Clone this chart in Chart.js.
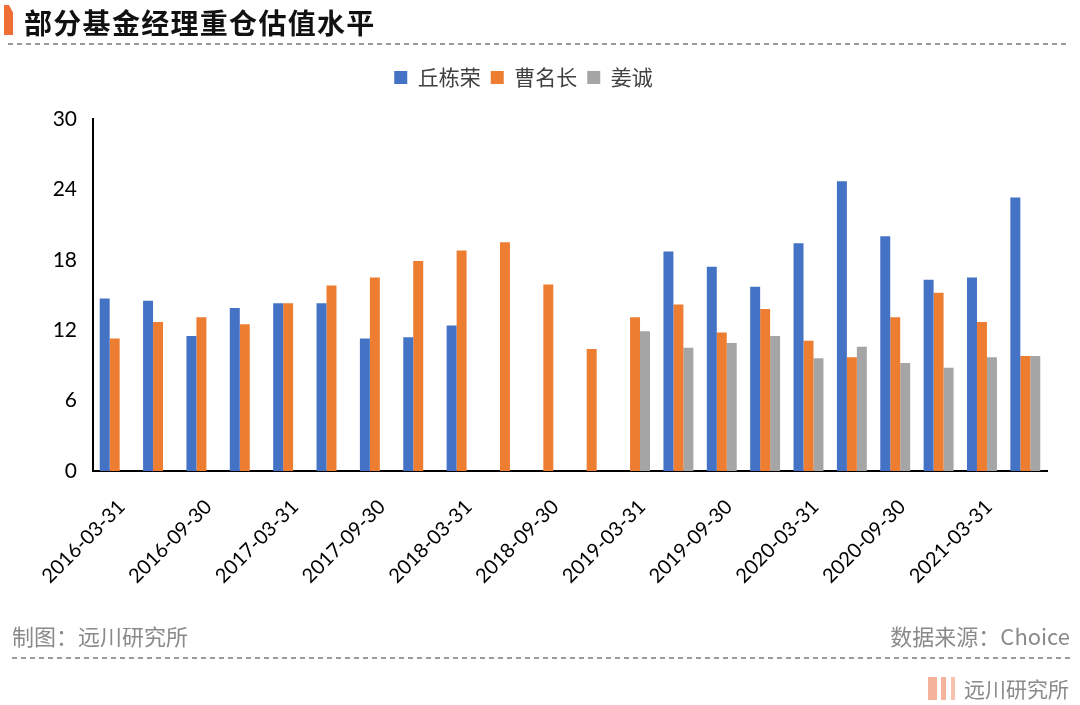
<!DOCTYPE html>
<html>
<head>
<meta charset="utf-8">
<script src="https://cdn.jsdelivr.net/npm/chart.js@4/dist/chart.umd.min.js"></script>
<style>
  html, body { margin: 0; padding: 0; background: #fff; }
  body { width: 1080px; height: 705px; position: relative; overflow: hidden;
         font-family: "Noto Sans CJK SC", "Noto Sans", sans-serif; }
  #wrap { position: absolute; left: 0; top: 0; width: 1080px; height: 705px; }
  .mark { position: absolute; left: 4px; top: 5px; width: 9px; height: 30px; background: #EE6E35;
          clip-path: polygon(0 0, 55% 0, 100% 25%, 100% 100%, 0 100%); }
  .title { position: absolute; left: 24px; top: 0px; font-size: 28px; font-weight: 700; color: #111;
           line-height: 44px; letter-spacing: 1.3px; }
  .dash { position: absolute; height: 2px;
          background: repeating-linear-gradient(to right, #9a9a9a 0 5px, transparent 5px 9px); }
  .foot { position: absolute; font-size: 22px; color: #8a8a8a; line-height: 28px; }
  .logo { position: absolute; top: 677px; height: 23px; background: #F5B39B; }
</style>
</head>
<body>
<div id="wrap"><canvas id="chart_1"></canvas></div>
<div class="mark"></div>
<div class="title">部分基金经理重仓估值水平</div>
<div class="dash" style="left:8px; width:1058px; top:43px;"></div>
<div class="foot" style="left:12px; top:621px;">制图：远川研究所</div>
<div class="foot" style="right:10px; top:621px;">数据来源：Choice</div>
<div class="dash" style="left:12px; width:1060px; top:657px;"></div>
<div class="logo" style="left:928px; width:9px;"></div>
<div class="logo" style="left:941px; width:5px;"></div>
<div class="logo" style="left:951px; width:4px; background:#F7C3B0;"></div>
<div class="foot" style="left:964px; top:674px; font-size:21px;">远川研究所</div>
<script>
const labels = ['2016-03-31', '2016-06-30', '2016-09-30', '2016-12-31',
                '2017-03-31', '2017-06-30', '2017-09-30', '2017-12-31',
                '2018-03-31', '2018-06-30', '2018-09-30', '2018-12-31',
                '2019-03-31', '2019-06-30', '2019-09-30', '2019-12-31',
                '2020-03-31', '2020-06-30', '2020-09-30', '2020-12-31',
                '2021-03-31', '2021-06-30'];

const qiuDongrong = [14.7, 14.5, 11.5, 13.9, 14.3, 14.3, 11.3, 11.4, 12.4, null, null, null,
                     null, 18.7, 17.4, 15.7, 19.4, 24.7, 20.0, 16.3, 16.5, 23.3];
const caoMingchang = [11.3, 12.7, 13.1, 12.5, 14.3, 15.8, 16.5, 17.9, 18.8, 19.5, 15.9, 10.4,
                      13.1, 14.2, 11.8, 13.8, 11.1, 9.7, 13.1, 15.2, 12.7, 9.8];
const jiangCheng = [null, null, null, null, null, null, null, null, null, null, null, null,
                    11.9, 10.5, 10.9, 11.5, 9.6, 10.6, 9.2, 8.8, 9.7, 9.8];

const yTicks = [0, 6, 12, 18, 24, 30];

// keep legend box at a fixed height so the plot starts where the reference does
const legendHeight = {
  id: 'legendHeight',
  beforeLayout(chart) {
    const lg = chart.legend;
    if (lg && !lg._patched) {
      const fit = lg.fit.bind(lg);
      lg.fit = function () { fit(); this.height = 62; };
      lg._patched = true;
    }
  }
};

const chartData = {
  labels,
  datasets: [
    { label: '丘栋荣', data: qiuDongrong, backgroundColor: '#4472C4' },
    { label: '曹名长', data: caoMingchang, backgroundColor: '#ED7D31' },
    { label: '姜诚', data: jiangCheng, backgroundColor: '#A5A5A5' }
  ]
};

const config = {
  type: 'bar',
  data: chartData,
  options: {
    responsive: false,
    animation: false,
    layout: { padding: { top: 57, left: 0, right: 33, bottom: 0 } },
    datasets: { bar: { categoryPercentage: 0.69, barPercentage: 1.0 } },
    plugins: {
      legend: {
        position: 'top',
        labels: {
          boxWidth: 13, boxHeight: 13, padding: 10,
          color: '#404040',
          font: { family: '"Noto Sans CJK SC", sans-serif', size: 21 }
        }
      },
      tooltip: { enabled: false }
    },
    scales: {
      x: {
        grid: { display: false, drawTicks: false },
        border: { color: '#000', width: 2 },
        ticks: {
          autoSkip: false, maxRotation: 45, minRotation: 45, padding: 24, labelOffset: 7,
          color: '#000',
          font: { family: 'Lato, sans-serif', size: 20 },
          callback: function (v, i) { return i % 2 === 0 ? labels[i] : ''; }
        },
        afterFit(scale) { scale.height = 234; }
      },
      y: {
        min: 0, max: 30,
        grid: { display: false, drawTicks: false },
        border: { color: '#000', width: 2 },
        afterBuildTicks(scale) { scale.ticks = yTicks.map(v => ({ value: v })); },
        ticks: {
          padding: 16, color: '#000',
          font: { family: 'Lato, sans-serif', size: 21 }
        },
        afterFit(scale) { scale.width = 93; }
      }
    }
  },
  plugins: [legendHeight]
};

const canvas = document.getElementById('chart_1');
canvas.width = 1080;
canvas.height = 705;
const chart_1 = new Chart(canvas, config);
</script>
</body>
</html>
